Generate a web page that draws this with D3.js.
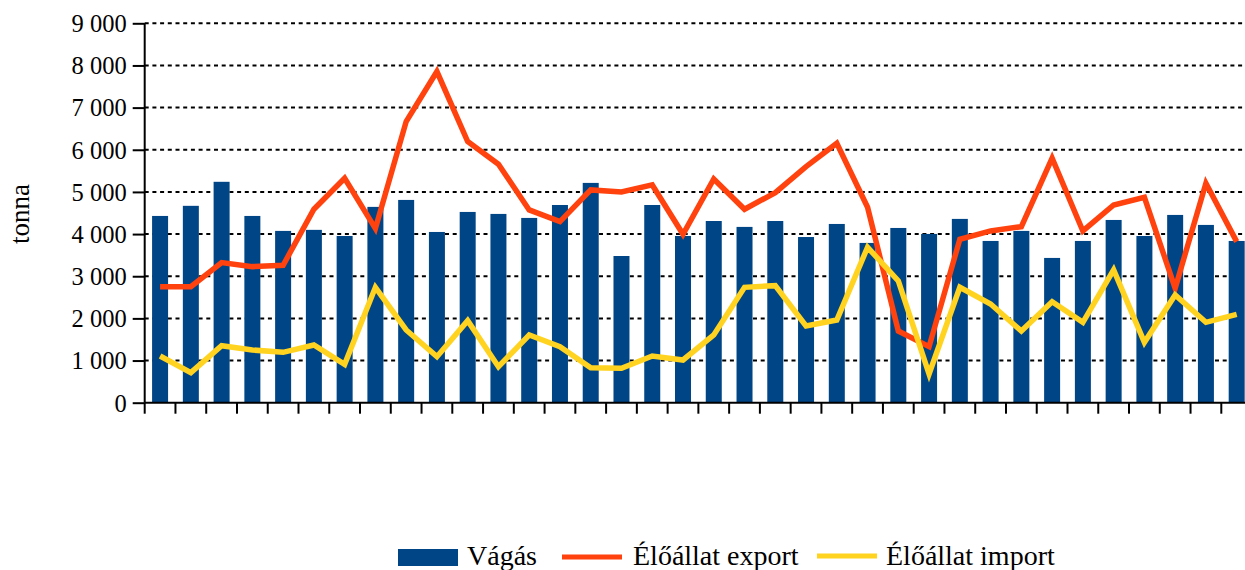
<!DOCTYPE html>
<html>
<head>
<meta charset="utf-8">
<script src="https://cdn.jsdelivr.net/npm/d3@7"></script>
<style>
  html, body { margin: 0; padding: 0; background: #fff; overflow: hidden; }
  text { font-family: "Liberation Serif", "Times New Roman", serif; fill: #000; }
</style>
</head>
<body>
<svg id="chart" width="1245" height="570"></svg>
<script>
// ---- data ----
const categories = d3.range(1, 37).map(String);
const vagas = [4430, 4670, 5240, 4430, 4075, 4100, 3955, 4645, 4810, 4050, 4525, 4478,
               4383, 4690, 5214, 3480, 4690, 3955, 4310, 4170, 4310, 3930, 4240, 3790,
               4145, 4003, 4360, 3837, 4075, 3434, 3837, 4335, 3955, 4454, 4217, 3837];
const exportValues = [2753, 2750, 3323, 3228, 3260, 4589, 5324, 4130, 6669, 7856, 6195, 5657,
                      4573, 4296, 5047, 5000, 5166, 3995, 5308, 4589, 4984, 5601, 6155, 4636,
                      1700, 1330, 3877, 4074, 4177, 5799, 4074, 4690, 4873, 2714, 5206, 3821];
const importValues = [1108, 712, 1353, 1250, 1195, 1369, 910, 2737, 1725, 1092, 1946, 854,
                      1606, 1329, 830, 815, 1108, 1013, 1606, 2737, 2777, 1820, 1962, 3687,
                      2888, 680, 2737, 2342, 1700, 2397, 1907, 3149, 1432, 2555, 1907, 2097];
const yTicks = [0, 1000, 2000, 3000, 4000, 5000, 6000, 7000, 8000, 9000];
const seriesNames = ["Vágás", "Élőállat export", "Élőállat import"];
const colors = ["#004586", "#FF420E", "#FFD320"];

// ---- layout ----
const svg = d3.select("#chart");
const pL = 144.7, pT = 23.3, pB = 402.7;
const pR = pL + 36 * 30.76;

const x = d3.scaleBand().domain(categories).range([pL, pR]).paddingInner(0.48).paddingOuter(0.24);
const xb = d3.scaleBand().domain(categories).range([pL, pR]);
const y = d3.scaleLinear().domain([0, 9000]).range([pB, pT]);

// gridlines
svg.append("g").selectAll("line").data(yTicks.filter(d => d > 0)).join("line")
  .attr("x1", pL).attr("x2", pR)
  .attr("y1", d => y(d)).attr("y2", d => y(d))
  .attr("stroke", "#000").attr("stroke-width", 2).attr("stroke-dasharray", "4,3.7");

// bars
svg.append("g").selectAll("rect").data(vagas).join("rect")
  .attr("x", (d, i) => x(categories[i]))
  .attr("width", x.bandwidth())
  .attr("y", d => y(d))
  .attr("height", d => pB - y(d))
  .attr("fill", colors[0]);

// lines
const line = d3.line()
  .x((d, i) => xb(categories[i]) + xb.bandwidth() / 2)
  .y(d => y(d));
svg.append("path").datum(exportValues).attr("d", line)
  .attr("fill", "none").attr("stroke", colors[1]).attr("stroke-width", 5.5)
  .attr("stroke-linejoin", "miter").attr("stroke-miterlimit", 4);
svg.append("path").datum(importValues).attr("d", line)
  .attr("fill", "none").attr("stroke", colors[2]).attr("stroke-width", 5.5)
  .attr("stroke-linejoin", "miter").attr("stroke-miterlimit", 4);

// y axis
const yAxis = d3.axisLeft(y).tickValues(yTicks).tickSize(12).tickPadding(6)
  .tickFormat(d => d3.format(",")(d).replace(/,/g, " "));
const gy = svg.append("g").attr("transform", `translate(${pL},0)`).call(yAxis);
gy.select(".domain").attr("stroke", "#000").attr("stroke-width", 2).attr("d", `M0,${pT}V${pB}`);
gy.selectAll(".tick line").attr("stroke", "#000").attr("stroke-width", 2);
gy.selectAll(".tick text").style("font-family", "Liberation Serif").style("font-size", "24.5px")
  .attr("dy", "0.34em");

// x axis
const xAxis = d3.axisBottom(xb).tickSize(0).tickFormat("");
const gx = svg.append("g").attr("transform", `translate(0,${pB})`).call(xAxis);
gx.select(".domain").attr("stroke", "#000").attr("stroke-width", 2).attr("d", `M${pL},0H${pR}`);
gx.selectAll(".tick").remove();
gx.selectAll("line.b").data(d3.range(0, 37)).join("line").attr("class", "b")
  .attr("x1", i => pL + i * xb.step()).attr("x2", i => pL + i * xb.step())
  .attr("y1", 0).attr("y2", 11).attr("stroke", "#000").attr("stroke-width", 2);

// y label
svg.append("text").attr("transform", `translate(29,214) rotate(-90)`)
  .attr("text-anchor", "middle").style("font-size", "27px").text("tonna");

// legend
const lg = svg.append("g");
lg.append("rect").attr("x", 398).attr("y", 549).attr("width", 60).attr("height", 17).attr("fill", colors[0]);
lg.append("text").attr("x", 467).attr("y", 565).style("font-size", "28px").text(seriesNames[0]);
lg.append("line").attr("x1", 562).attr("x2", 622).attr("y1", 557).attr("y2", 557)
  .attr("stroke", colors[1]).attr("stroke-width", 5);
lg.append("text").attr("x", 633).attr("y", 565).style("font-size", "28px").text(seriesNames[1]);
lg.append("line").attr("x1", 817).attr("x2", 877).attr("y1", 556).attr("y2", 556)
  .attr("stroke", colors[2]).attr("stroke-width", 5);
lg.append("text").attr("x", 886).attr("y", 565).style("font-size", "28px").text(seriesNames[2]);
</script>
</body>
</html>
